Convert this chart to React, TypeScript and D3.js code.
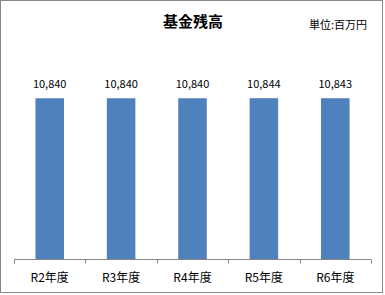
import * as d3 from "d3";
import React, { useRef, useEffect } from "react";

const categories = ["R2年度", "R3年度", "R4年度", "R5年度", "R6年度"];
const values = [10840, 10840, 10840, 10844, 10843];
const title = "基金残高";
const unitLabel = "単位:百万円";

function App() {
  const svgRef = useRef<SVGSVGElement>(null);

  useEffect(() => {
    const w = 385;
    const h = 295;
    const left = 14;
    const right = 371;
    const top = 81;
    const bottom = 259.5;
    const font = "'Noto Sans CJK JP', 'Liberation Sans', sans-serif";

    const svg = d3.select(svgRef.current).attr("width", w).attr("height", h);
    svg.selectAll("*").remove();

    // frame
    svg.append("rect")
      .attr("x", 0.5).attr("y", 0.5)
      .attr("width", w - 3).attr("height", h - 3)
      .attr("fill", "#fff")
      .attr("stroke", "#868686");

    const x = d3.scaleBand().domain(categories).range([left, right]).paddingInner(0.6).paddingOuter(0.3);
    const y = d3.scaleLinear().domain([0, 12000]).range([bottom, top]);

    svg.append("g")
      .selectAll("rect")
      .data(values)
      .join("rect")
      .attr("x", (d, i) => x(categories[i])!)
      .attr("y", d => y(d))
      .attr("width", x.bandwidth())
      .attr("height", d => bottom - y(d))
      .attr("fill", "#4F81BD");

    svg.append("g")
      .selectAll("text")
      .data(values)
      .join("text")
      .attr("x", (d, i) => x(categories[i])! + x.bandwidth() / 2)
      .attr("y", d => y(d) - 10)
      .attr("text-anchor", "middle")
      .attr("font-family", font)
      .attr("font-size", 11)
      .attr("fill", "#000")
      .text(d => d3.format(",")(d));

    // category axis with boundary ticks
    const step = (right - left) / categories.length;
    const ax = svg.append("g").attr("stroke", "#868686").attr("stroke-width", 1);
    ax.append("line").attr("x1", left).attr("x2", right).attr("y1", bottom).attr("y2", bottom);
    d3.range(categories.length + 1).forEach(i => {
      const tx = Math.round(left + i * step) + 0.5;
      ax.append("line").attr("x1", tx).attr("x2", tx).attr("y1", bottom).attr("y2", bottom + 4);
    });

    svg.append("g")
      .selectAll("text")
      .data(categories)
      .join("text")
      .attr("x", d => x(d)! + x.bandwidth() / 2)
      .attr("y", 282)
      .attr("text-anchor", "middle")
      .attr("font-family", font)
      .attr("font-size", 12)
      .attr("fill", "#000")
      .text(d => d);

    svg.append("text")
      .attr("x", 193)
      .attr("y", 27)
      .attr("text-anchor", "middle")
      .attr("font-family", font)
      .attr("font-size", 15)
      .attr("font-weight", "bold")
      .text(title);

    svg.append("text")
      .attr("x", 367)
      .attr("y", 29)
      .attr("text-anchor", "end")
      .attr("font-family", font)
      .attr("font-size", 11)
      .text(unitLabel);
  }, []);

  return (
    <svg ref={svgRef} style={{ position: "absolute", left: 0, top: 0 }}></svg>
  );
}

export default App;
